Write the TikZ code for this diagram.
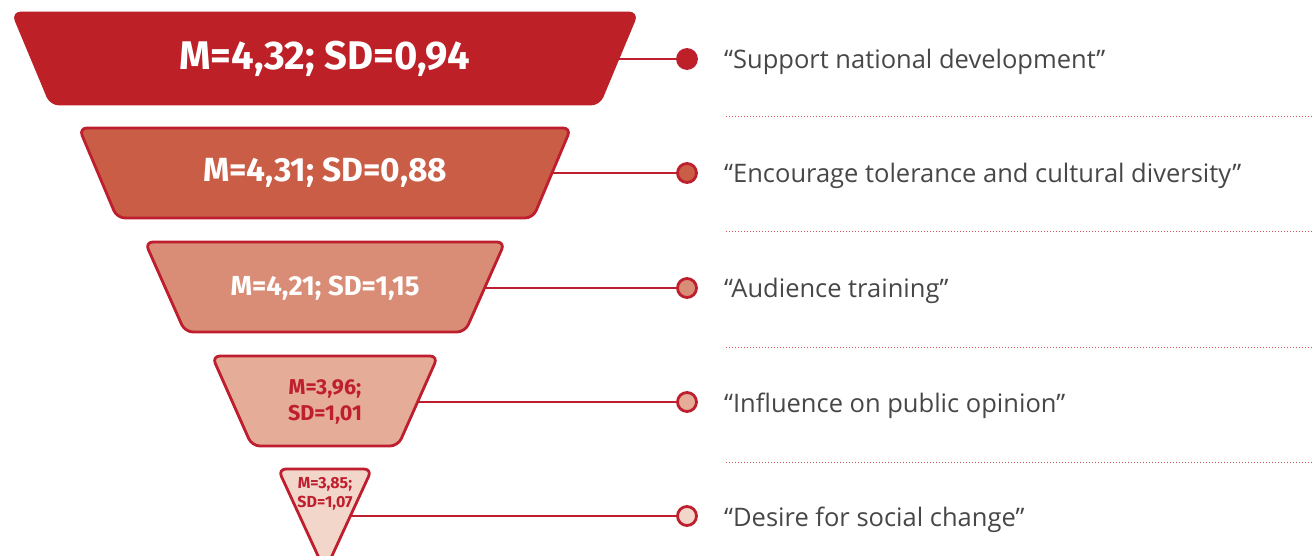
\documentclass[tikz,border=0pt]{standalone}
\usepackage{fontspec}
\setmainfont{Open Sans}
\newfontfamily\numfont{Fira Sans}
\definecolor{funnelred}{HTML}{BE1E2D}
\definecolor{lev1}{HTML}{BD2026}
\definecolor{lev2}{HTML}{CA5D46}
\definecolor{lev3}{HTML}{DA8D76}
\definecolor{lev4}{HTML}{E5AC98}
\definecolor{lev5}{HTML}{F3D6CA}
\definecolor{itemgray}{HTML}{474747}
\begin{document}
\begin{tikzpicture}[x=1pt,y=-1pt,
	level/.style={draw=funnelred,line width=2.8pt,rounded corners=8pt,line join=round},
	val/.style 2 args={font=\numfont\bfseries\fontsize{#1}{#2}\selectfont,align=center,inner sep=0pt},
	knot/.style={circle,draw=funnelred,line width=2.8pt,minimum size=19pt,inner sep=0pt},
	link/.style={draw=funnelred,line width=2.8pt},
	item/.style={font=\fontsize{25.5}{30}\selectfont,text=itemgray,anchor=base west,inner sep=0pt},
	rule/.style={draw=funnelred!75,line width=1pt,dash pattern=on 1pt off 2pt}]
	\fill[white,use as bounding box] (0,0) rectangle (1312,556);
	\clip (0,0) rectangle (1312,556);

	% funnel levels
	\draw[level,draw=lev1,fill=lev1] (13,13) -- (637,13) -- (599,104) -- (51,104) -- cycle;
	\node[val={40}{46},text=white] (v1) at (325,59) {M=4,32; SD=0,94};
	\draw[level,fill=lev2] (79,128) -- (571,128) -- (533,218) -- (117,218) -- cycle;
	\node[val={33.5}{40},text=white] (v2) at (325,173) {M=4,31; SD=0,88};
	\draw[level,fill=lev3] (145,242) -- (505,242) -- (465,332) -- (185,332) -- cycle;
	\node[val={27.5}{32},text=white] (v3) at (325,288) {M=4,21; SD=1,15};
	\draw[level,fill=lev4] (212,356) -- (438,356) -- (398,446) -- (252,446) -- cycle;
	\node[val={21.5}{26},text=funnelred] (v4) at (325,402) {M=3,96;\\SD=1,01};
	\draw[level,fill=lev5] (278,469) -- (372,469) -- (325,571) -- cycle;
	\node[val={16}{18.5},text=funnelred] (v5) at (325,494) {M=3,85;\\SD=1,07};

	% connectors
	\coordinate (e1) at (618,59);
	\coordinate (e2) at (552,173);
	\coordinate (e3) at (485,288);
	\coordinate (e4) at (418,402);
	\coordinate (e5) at (350,516);
	\node[knot,fill=lev1] (k1) at (687,59) {};
	\node[knot,fill=lev2] (k2) at (687,173) {};
	\node[knot,fill=lev3] (k3) at (687,288) {};
	\node[knot,fill=lev4] (k4) at (687,402) {};
	\node[knot,fill=lev5] (k5) at (687,516) {};
	\draw[link] (e1) -- (k1);
	\draw[link] (e2) -- (k2);
	\draw[link] (e3) -- (k3);
	\draw[link] (e4) -- (k4);
	\draw[link] (e5) -- (k5);

	% items
	\node[item] (t1) at (724,69) {“Support national development”};
	\node[item] (t2) at (724,183) {“Encourage tolerance and cultural diversity”};
	\node[item] (t3) at (724,298) {“Audience training”};
	\node[item] (t4) at (724,412) {“Influence on public opinion”};
	\node[item] (t5) at (724,526) {“Desire for social change”};
	\draw[rule] (726,117) -- (1312,117);
	\draw[rule] (726,232) -- (1312,232);
	\draw[rule] (726,347) -- (1312,347);
	\draw[rule] (726,462) -- (1312,462);
\end{tikzpicture}
\end{document}
